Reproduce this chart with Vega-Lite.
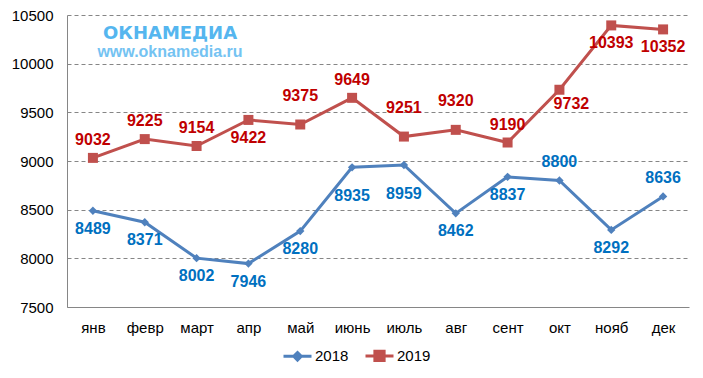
{
  "$schema": "https://vega.github.io/schema/vega-lite/v6.json",
  "width": 622,
  "height": 292,
  "autosize": {"type": "none"},
  "padding": {"left": 67, "top": 15, "right": 14, "bottom": 71},
  "background": "white",
  "config": {
    "font": "Liberation Sans",
    "view": {"stroke": null},
    "axis": {"labelFont": "Liberation Sans", "labelFontSize": 15, "labelColor": "#000000"}
  },
  "title": {
    "text": "ОКНАМЕДИА",
    "subtitle": "www.oknamedia.ru",
    "anchor": "start",
    "frame": "group",
    "align": "center",
    "dx": 103,
    "offset": -52,
    "font": "DejaVu Sans",
    "fontSize": 18,
    "fontWeight": "bold",
    "color": "#55B6EF",
    "subtitleFont": "Liberation Sans",
    "subtitleFontSize": 16,
    "subtitleFontWeight": "bold",
    "subtitleColor": "#74C3F2",
    "subtitlePadding": 1
  },
  "data": {
    "values": [
      {"month": "янв", "year": "2018", "value": 8489, "pos": "below"},
      {"month": "февр", "year": "2018", "value": 8371, "pos": "below"},
      {"month": "март", "year": "2018", "value": 8002, "pos": "below"},
      {"month": "апр", "year": "2018", "value": 7946, "pos": "below"},
      {"month": "май", "year": "2018", "value": 8280, "pos": "below"},
      {"month": "июнь", "year": "2018", "value": 8935, "pos": "low"},
      {"month": "июль", "year": "2018", "value": 8959, "pos": "low"},
      {"month": "авг", "year": "2018", "value": 8462, "pos": "below"},
      {"month": "сент", "year": "2018", "value": 8837, "pos": "below"},
      {"month": "окт", "year": "2018", "value": 8800, "pos": "above"},
      {"month": "нояб", "year": "2018", "value": 8292, "pos": "below"},
      {"month": "дек", "year": "2018", "value": 8636, "pos": "above"},
      {"month": "янв", "year": "2019", "value": 9032, "pos": "above"},
      {"month": "февр", "year": "2019", "value": 9225, "pos": "above"},
      {"month": "март", "year": "2019", "value": 9154, "pos": "above"},
      {"month": "апр", "year": "2019", "value": 9422, "pos": "below"},
      {"month": "май", "year": "2019", "value": 9375, "pos": "high"},
      {"month": "июнь", "year": "2019", "value": 9649, "pos": "above"},
      {"month": "июль", "year": "2019", "value": 9251, "pos": "high"},
      {"month": "авг", "year": "2019", "value": 9320, "pos": "high"},
      {"month": "сент", "year": "2019", "value": 9190, "pos": "above"},
      {"month": "окт", "year": "2019", "value": 9732, "pos": "belowright"},
      {"month": "нояб", "year": "2019", "value": 10393, "pos": "below"},
      {"month": "дек", "year": "2019", "value": 10352, "pos": "below"}
    ]
  },
  "encoding": {
    "x": {
      "field": "month",
      "type": "nominal",
      "sort": null,
      "scale": {"type": "point", "padding": 0.5},
      "axis": {
        "title": null,
        "labelAngle": 0,
        "ticks": false,
        "tickSize": 0,
        "labelPadding": 13,
        "domainColor": "#868686",
        "domainWidth": 1,
        "grid": false
      }
    },
    "y": {
      "field": "value",
      "type": "quantitative",
      "scale": {"domain": [7500, 10500], "nice": false, "zero": false},
      "axis": {
        "title": null,
        "values": [7500, 8000, 8500, 9000, 9500, 10000, 10500],
        "format": "d",
        "ticks": false,
        "tickSize": 0,
        "labelPadding": 14,
        "domainColor": "#868686",
        "domainWidth": 1,
        "grid": true,
        "gridColor": "#868686",
        "gridDash": [4, 3],
        "gridWidth": 1
      }
    }
  },
  "layer": [
    {
      "mark": {"type": "line", "strokeWidth": 3},
      "encoding": {
        "color": {
          "field": "year",
          "type": "nominal",
          "scale": {"domain": ["2018", "2019"], "range": ["#4F81BD", "#C0504D"]},
          "legend": {
            "title": null,
            "orient": "none",
            "legendX": 215,
            "legendY": 325,
            "direction": "horizontal",
            "labelFont": "Liberation Sans",
            "labelFontSize": 15,
            "labelColor": "#000000",
            "symbolSize": 784,
            "symbolStrokeWidth": 3,
            "columnPadding": 10,
            "labelOffset": 2,
            "encode": {
              "symbols": {
                "update": {
                  "shape": {"signal": "datum.value === '2018' ? 'M-1,0H1M0,-0.27L0.27,0L0,0.27L-0.27,0Z' : 'M-1,0H1M-0.33,-0.33H0.33V0.33H-0.33Z'"},
                  "fill": {"scale": "color", "field": "value"},
                  "stroke": {"scale": "color", "field": "value"},
                  "strokeWidth": {"value": 3},
                  "opacity": {"value": 1}
                }
              }
            }
          }
        }
      }
    },
    {
      "transform": [{"filter": "datum.year === '2018'"}],
      "mark": {"type": "point", "filled": true, "opacity": 1, "shape": "diamond", "size": 70, "color": "#4F81BD"}
    },
    {
      "transform": [{"filter": "datum.year === '2019'"}],
      "mark": {"type": "point", "filled": true, "opacity": 1, "shape": "square", "size": 100, "color": "#C0504D"}
    },
    {
      "transform": [{"filter": "datum.pos === 'above'"}],
      "mark": {"type": "text", "fontSize": 16, "fontWeight": "bold", "baseline": "middle", "dy": -18, "font": "Liberation Sans"},
      "encoding": {
        "text": {"field": "value", "type": "quantitative", "format": "d"},
        "color": {"condition": {"test": "datum.year === '2018'", "value": "#0070C0"}, "value": "#C00000"}
      }
    },
    {
      "transform": [{"filter": "datum.pos === 'high'"}],
      "mark": {"type": "text", "fontSize": 16, "fontWeight": "bold", "baseline": "middle", "dy": -29, "font": "Liberation Sans"},
      "encoding": {
        "text": {"field": "value", "type": "quantitative", "format": "d"},
        "color": {"condition": {"test": "datum.year === '2018'", "value": "#0070C0"}, "value": "#C00000"}
      }
    },
    {
      "transform": [{"filter": "datum.pos === 'below'"}],
      "mark": {"type": "text", "fontSize": 16, "fontWeight": "bold", "baseline": "middle", "dy": 18, "font": "Liberation Sans"},
      "encoding": {
        "text": {"field": "value", "type": "quantitative", "format": "d"},
        "color": {"condition": {"test": "datum.year === '2018'", "value": "#0070C0"}, "value": "#C00000"}
      }
    },
    {
      "transform": [{"filter": "datum.pos === 'low'"}],
      "mark": {"type": "text", "fontSize": 16, "fontWeight": "bold", "baseline": "middle", "dy": 29, "font": "Liberation Sans"},
      "encoding": {
        "text": {"field": "value", "type": "quantitative", "format": "d"},
        "color": {"condition": {"test": "datum.year === '2018'", "value": "#0070C0"}, "value": "#C00000"}
      }
    },
    {
      "transform": [{"filter": "datum.pos === 'belowright'"}],
      "mark": {"type": "text", "fontSize": 16, "fontWeight": "bold", "baseline": "middle", "dy": 14, "dx": 12, "font": "Liberation Sans"},
      "encoding": {
        "text": {"field": "value", "type": "quantitative", "format": "d"},
        "color": {"condition": {"test": "datum.year === '2018'", "value": "#0070C0"}, "value": "#C00000"}
      }
    }
  ]
}
